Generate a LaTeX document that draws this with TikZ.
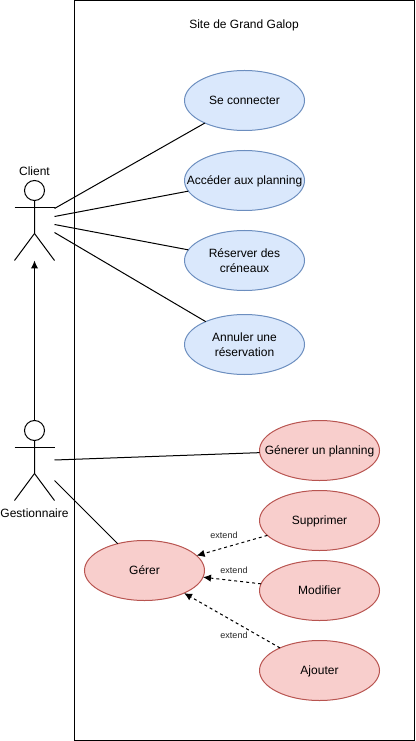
\documentclass[tikz,border=0pt]{standalone}
\usepackage{fontspec}
\setmainfont{Liberation Sans}
\usetikzlibrary{shapes.geometric, arrows.meta, positioning}

\newcommand{\widetext}[1]{\makebox[0pt]{#1}}

\begin{document}
\begin{tikzpicture}[
    x=0.75pt, y=-0.75pt,
    line width=0.75pt,
    font=\fontsize{9}{11.25}\selectfont,
    usecase/.style={ellipse, draw, inner sep=0pt, outer sep=0pt, minimum width=90pt, minimum height=45pt, align=center},
    client/.style={usecase, draw=blueedge, fill=bluefill},
    admin/.style={usecase, draw=rededge, fill=redfill},
    oneline/.style={text height=6.5pt, text depth=1pt},
    extendline/.style={-{Latex[length=6pt,width=5.5pt]}, dash pattern=on 2.25pt off 2.25pt},
    extendlabel/.style={font=\fontsize{6.75}{8}\selectfont, text=black!85},
    actorhead/.style={circle, draw, inner sep=0pt, outer sep=0pt, minimum size=15pt}
]
    \definecolor{bluefill}{HTML}{DAE8FC}
    \definecolor{blueedge}{HTML}{6C8EBF}
    \definecolor{redfill}{HTML}{F8CECC}
    \definecolor{rededge}{HTML}{B85450}
    \useasboundingbox (0,0) rectangle (415,741);

    % System boundary
    \draw (74.5,0.5) rectangle (414.5,740.5);
    \node (title) at (244,25) {Site de Grand Galop};

    % Use cases
    \node[client, oneline] (login) at (244.5,100.5) {Se connecter};
    \node[client, oneline] (access) at (244.5,180.5) {\widetext{Accéder aux planning}};
    \node[client] (book) at (244.5,260.5) {Réserver des\\créneaux};
    \node[client] (cancel) at (244.5,344.5) {Annuler une\\réservation};
    \node[admin, oneline] (generate) at (319.5,450.5) {\widetext{Génerer un planning}};
    \node[admin, oneline] (delete) at (319.5,520.5) {Supprimer};
    \node[admin, oneline] (edit) at (319.5,590.5) {Modifier};
    \node[admin, oneline] (add) at (319.5,670.5) {Ajouter};
    \node[admin, oneline] (manage) at (144.5,570.5) {Gérer};

    % Actors
    \node[actorhead] (clienthead) at (34.5,190.5) {};
    \draw (clienthead.south) -- (34.5,233.5) -- (14.5,260.5);
    \draw (34.5,233.5) -- (54.5,260.5);
    \draw (14.5,207.5) -- (54.5,207.5);
    \node (clientname) at (34.5,171) {Client};

    \node[actorhead] (adminhead) at (34.5,430.5) {};
    \draw (adminhead.south) -- (34.5,473.5) -- (14.5,500.5);
    \draw (34.5,473.5) -- (54.5,500.5);
    \draw (14.5,447.5) -- (54.5,447.5);
    \node (adminname) at (34.5,513.5) {Gestionnaire};

    % Free ends of the connectors
    \coordinate (c1) at (54.5,208.5);
    \coordinate (c2) at (54.5,216.5);
    \coordinate (c3) at (54.5,224.5);
    \coordinate (c4) at (54.5,232.5);
    \coordinate (g1) at (54.5,460);
    \coordinate (g2) at (54.5,480.5);
    \coordinate (clientfoot) at (34.5,260.5);

    % Connectors
    \draw (c1) -- (login);
    \draw (c2) -- (access);
    \draw (c3) -- (book);
    \draw (c4) -- (cancel);
    \draw (g1) -- (generate);
    \draw (g2) -- (manage);
    \draw[-{Latex[length=6pt,width=5.5pt]}] (adminhead) -- (clientfoot);

    % Extensions
    \draw[extendline] (delete) -- (manage);
    \draw[extendline] (edit) -- (manage);
    \draw[extendline] (add) -- (manage);
    \node[extendlabel] (ext1) at (224,535) {extend};
    \node[extendlabel] (ext2) at (234,570) {extend};
    \node[extendlabel] (ext3) at (234,635) {extend};
\end{tikzpicture}
\end{document}
